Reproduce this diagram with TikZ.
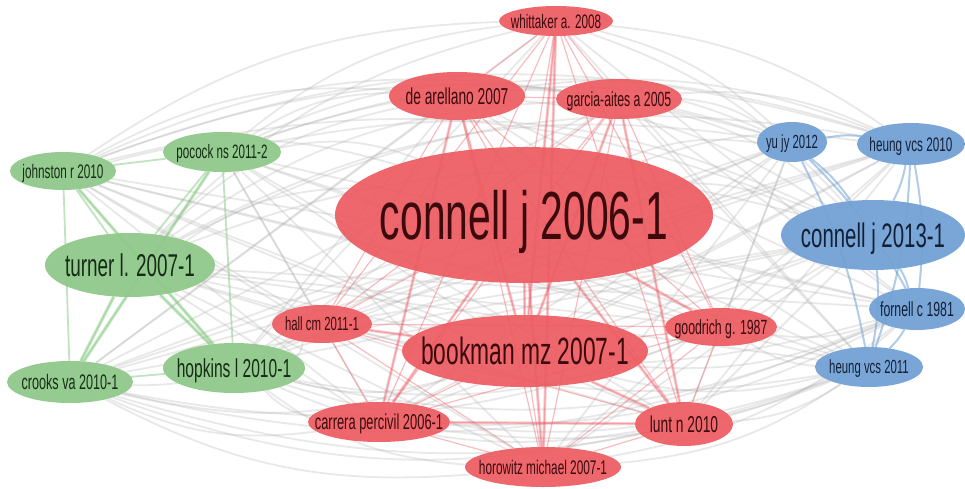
\documentclass[tikz,border=0pt]{standalone}
\usepackage{fontspec}
\setmainfont[FakeStretch=0.6]{Liberation Sans}
\usetikzlibrary{shapes.geometric,backgrounds}
\definecolor{rednode}{RGB}{236,92,98}
\definecolor{greennode}{RGB}{142,200,136}
\definecolor{bluenode}{RGB}{112,160,212}
\definecolor{redtext}{RGB}{60,10,12}
\definecolor{greentext}{RGB}{20,45,20}
\definecolor{bluetext}{RGB}{18,32,55}
\definecolor{redline}{RGB}{238,90,100}
\definecolor{greenline}{RGB}{120,195,115}
\definecolor{blueline}{RGB}{100,155,210}
\definecolor{grayline}{RGB}{175,175,175}
\newcommand\lbl[2]{\fontsize{#1}{#1}\selectfont\makebox[0pt]{\raisebox{-0.36em}[0pt][0pt]{#2}}}
\tikzset{
  nd/.style={ellipse, inner sep=0pt, fill opacity=0.93, text opacity=1},
  rnode/.style={nd, fill=rednode, text=redtext},
  gnode/.style={nd, fill=greennode, text=greentext},
  bnode/.style={nd, fill=bluenode, text=bluetext},
  gedge/.style={draw=grayline, opacity=0.28, line width=1.8pt},
  redge/.style={draw=redline, opacity=0.4, line width=1.2pt},
  redgethick/.style={draw=redline, opacity=0.3, line width=3pt},
  gredge/.style={draw=greenline, opacity=0.45, line width=1.8pt},
  bedge/.style={draw=blueline, opacity=0.5, line width=2pt},
}
\begin{document}
\begin{tikzpicture}[x=1pt,y=-1pt]
\useasboundingbox (0,0) rectangle (965,489);
% green cluster
\node[gnode, minimum width=106pt, minimum height=38pt] (jo) at (63,171) {\lbl{19.6}{johnston r 2010}};
\node[gnode, minimum width=118pt, minimum height=40pt] (po) at (222,152) {\lbl{19.4}{pocock ns 2011-2}};
\node[gnode, minimum width=170pt, minimum height=64pt] (tu) at (130,265) {\lbl{31.5}{turner l. 2007-1}};
\node[gnode, minimum width=126pt, minimum height=42pt] (cr) at (70,382) {\lbl{21}{crooks va 2010-1}};
\node[gnode, minimum width=142pt, minimum height=50pt] (ho) at (234,368) {\lbl{26}{hopkins l 2010-1}};
% red cluster
\node[rnode, minimum width=114pt, minimum height=30pt] (wh) at (556,21) {\lbl{19.5}{whittaker a. 2008}};
\node[rnode, minimum width=136pt, minimum height=48pt] (de) at (457,96) {\lbl{23}{de arellano 2007}};
\node[rnode, minimum width=126pt, minimum height=40pt] (ga) at (619,99) {\lbl{20.5}{garcia-aites a 2005}};
\node[rnode, minimum width=378pt, minimum height=136pt] (c6) at (524,215) {\lbl{68}{connell j 2006-1}};
\node[rnode, minimum width=100pt, minimum height=38pt] (hc) at (322,324) {\lbl{19}{hall cm 2011-1}};
\node[rnode, minimum width=246pt, minimum height=72pt] (bo) at (525,351) {\lbl{38}{bookman mz 2007-1}};
\node[rnode, minimum width=112pt, minimum height=38pt] (gd) at (721,327) {\lbl{20.5}{goodrich g. 1987}};
\node[rnode, minimum width=142pt, minimum height=40pt] (ca) at (379,422) {\lbl{21.5}{carrera percivil 2006-1}};
\node[rnode, minimum width=98pt, minimum height=44pt] (lu) at (684,424) {\lbl{23}{lunt n 2010}};
\node[rnode, minimum width=156pt, minimum height=40pt] (hm) at (543,467) {\lbl{19.7}{horowitz michael 2007-1}};
% blue cluster
\node[bnode, minimum width=70pt, minimum height=40pt] (yu) at (792,142) {\lbl{19}{yu jy 2012}};
\node[bnode, minimum width=108pt, minimum height=42pt] (h10) at (911,144) {\lbl{19.6}{heung vcs 2010}};
\node[bnode, minimum width=184pt, minimum height=70pt] (c13) at (873,235) {\lbl{34}{connell j 2013-1}};
\node[bnode, minimum width=96pt, minimum height=42pt] (fo) at (917,309) {\lbl{20.5}{fornell c 1981}};
\node[bnode, minimum width=108pt, minimum height=40pt] (h11) at (869,367) {\lbl{19}{heung vcs 2011}};

\begin{pgfonlayer}{background}
\fill[white] (0,0) rectangle (965,489);
% grey links between clusters
\foreach \a/\sa in {jo/1,po/1,tu/1,cr/-1,ho/-1}{
  \foreach \b/\sb in {wh/1,de/1,ga/1,c6/1,hc/-1,bo/-1,gd/-1,ca/-1,lu/-1,hm/-1}{
    \pgfmathsetmacro\ang{8*(\sa+\sb)}
    \draw[gedge] (\a) to[bend left=\ang] (\b);
  }
  \foreach \b/\sb in {yu/1,h10/1,c13/1,fo/-1,h11/-1}{
    \pgfmathsetmacro\ang{9*(\sa+\sb)}
    \draw[gedge] (\a) to[bend left=\ang] (\b);
  }
}
\foreach \a/\sa in {wh/1,de/1,ga/1,c6/1,hc/-1,bo/-1,gd/-1,ca/-1,lu/-1,hm/-1}{
  \foreach \b/\sb in {yu/1,h10/1,c13/1,fo/-1,h11/-1}{
    \pgfmathsetmacro\ang{7*(\sa+\sb)}
    \draw[gedge] (\a) to[bend left=\ang] (\b);
  }
}
% red links
\foreach \a [count=\i] in {wh,de,ga,c6,hc,bo,gd,ca,lu,hm}{
  \foreach \b [count=\j] in {wh,de,ga,c6,hc,bo,gd,ca,lu,hm}{
    \ifnum\j>\i \draw[redge] (\a) -- (\b); \fi
  }
}
\foreach \a/\b in {c6/bo,c6/lu,c6/ca,de/bo,ga/lu,wh/bo,bo/lu,c6/hm,de/ca,ga/bo,wh/hm,c6/gd,hc/bo,ca/lu}{
  \draw[redgethick] (\a) -- (\b);
}
% green links
\foreach \a [count=\i] in {jo,po,tu,cr,ho}{
  \foreach \b [count=\j] in {jo,po,tu,cr,ho}{
    \ifnum\j>\i \draw[gredge] (\a) -- (\b); \fi
  }
}
\foreach \a/\b in {tu/cr,tu/ho,jo/ho,po/cr}{
  \draw[gredge, line width=3.5pt, opacity=0.3] (\a) -- (\b);
}
% blue links
\foreach \a [count=\i] in {yu,h10,c13,fo,h11}{
  \foreach \b [count=\j] in {yu,h10,c13,fo,h11}{
    \ifnum\j>\i \draw[bedge] (\a) to[bend left=8] (\b); \fi
  }
}
\end{pgfonlayer}
\end{tikzpicture}
\end{document}
